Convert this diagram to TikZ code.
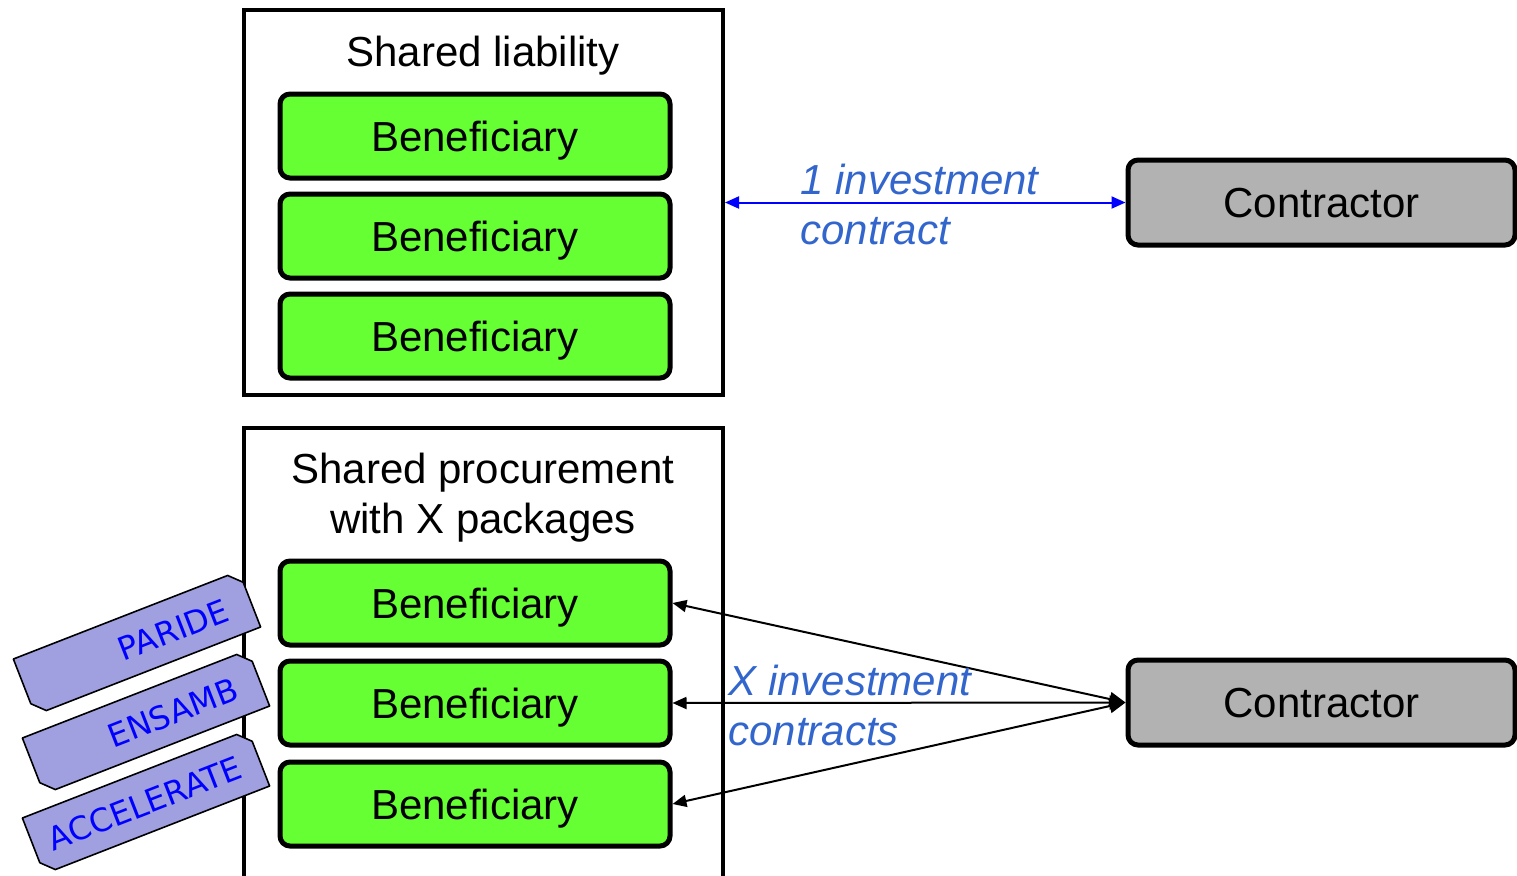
\documentclass[tikz,border=0pt]{standalone}
\usepackage{fontspec}
\setmainfont{Liberation Sans}
\newfontfamily\tagfont{DejaVu Sans}
\usepackage{xcolor}
\usetikzlibrary{arrows.meta}

\definecolor{benefgreen}{RGB}{102,255,51}
\definecolor{contrgray}{RGB}{178,178,178}
\definecolor{taglilac}{RGB}{160,160,224}
\definecolor{labelblue}{RGB}{51,102,204}
\definecolor{tagblue}{RGB}{0,0,255}

\tikzset{
  bigtext/.style={font=\fontsize{21}{25}\selectfont},
  outerbox/.style={draw, line width=2pt, minimum width=239.5pt, inner sep=0pt},
  benef/.style={draw, fill=benefgreen, line width=2.5pt, rounded corners=5pt,
    minimum width=195pt, minimum height=42pt, text depth=0pt, bigtext},
  contr/.style={draw, fill=contrgray, line width=2.5pt, rounded corners=5pt,
    minimum width=193.5pt, minimum height=42.5pt, text depth=0pt, bigtext},
  title/.style={bigtext, align=center, inner sep=0pt},
  contrlabel/.style={bigtext, font=\fontsize{21}{25}\selectfont\itshape,
    text=labelblue, align=left, inner sep=0pt},
  tagshape/.style={draw, fill=taglilac, line width=0.8pt, line join=round},
  tagtext/.style={font=\tagfont\fontsize{16}{19}\selectfont, text=tagblue,
    inner sep=0pt, rotate=21.3, anchor=east},
  bluearrow/.style={draw=tagblue, line width=1pt,
    {Triangle[length=7pt,width=6pt]}-{Triangle[length=7pt,width=6pt]}},
  blackarrow/.style={draw, line width=1pt,
    {Triangle[length=7pt,width=6pt]}-{Triangle[length=8pt,width=7pt]}}
}

\begin{document}
\begin{tikzpicture}[x=0.5pt, y=-0.5pt]
  \useasboundingbox (0,0) rectangle (1517,875);
  \clip (0,0) rectangle (1517,875);

  % shared liability
  \node (liab) [outerbox, minimum height=192.5pt] at (483.5,202.5) {};
  \node (liabtitle) [title] at (483,56) {Shared liability};
  \node (benef1) [benef] at (475,136) {Beneficiary};
  \node (benef2) [benef] at (475,236) {Beneficiary};
  \node (benef3) [benef] at (475,336) {Beneficiary};

  % shared procurement
  \node (proc) [outerbox, minimum height=226pt] at (483.5,654) {};
  \node (proctitle) [title] at (483,498) {Shared procurement\\with X packages};
  \node (benef4) [benef] at (475,603) {Beneficiary};
  \node (benef5) [benef] at (475,703) {Beneficiary};
  \node (benef6) [benef] at (475,804) {Beneficiary};

  % contractors
  \node (contrA) [contr] at (1321.5,202.5) {Contractor};
  \node (contrB) [contr] at (1321.5,702.5) {Contractor};

  % contracts
  \draw[bluearrow] (liab.east) -- (contrA.west);
  \node (onelabel) [contrlabel, anchor=north west] at (800,164) {1 investment\\contract};
  \draw[blackarrow] (benef4.east) -- (contrB.west);
  \draw[blackarrow] (benef5.east) -- (contrB.west);
  \draw[blackarrow] (benef6.east) -- (contrB.west);
  \node (xlabel) [contrlabel, anchor=north west] at (728,665) {X investment\\contracts};

  % project tags
  \begin{scope}[shift={(137,643)}, rotate=21.3]
    \draw[tagshape] (-121,-30) -- (109,-30) -- (121,-18) -- (121,30) -- (-109,30) -- (-121,18) -- cycle;
    \node (paride) [tagtext] at (97,1) {PARIDE};
  \end{scope}
  \begin{scope}[shift={(146,722)}, rotate=21.3]
    \draw[tagshape] (-121,-30) -- (109,-30) -- (121,-18) -- (121,30) -- (-109,30) -- (-121,18) -- cycle;
    \node (ensamb) [tagtext] at (97,1) {ENSAMB};
  \end{scope}
  \begin{scope}[shift={(146,802)}, rotate=21.3]
    \draw[tagshape] (-121,-30) -- (109,-30) -- (121,-18) -- (121,30) -- (-109,30) -- (-121,18) -- cycle;
    \node (accel) [tagtext] at (101,1) {ACCELERATE};
  \end{scope}
\end{tikzpicture}
\end{document}
